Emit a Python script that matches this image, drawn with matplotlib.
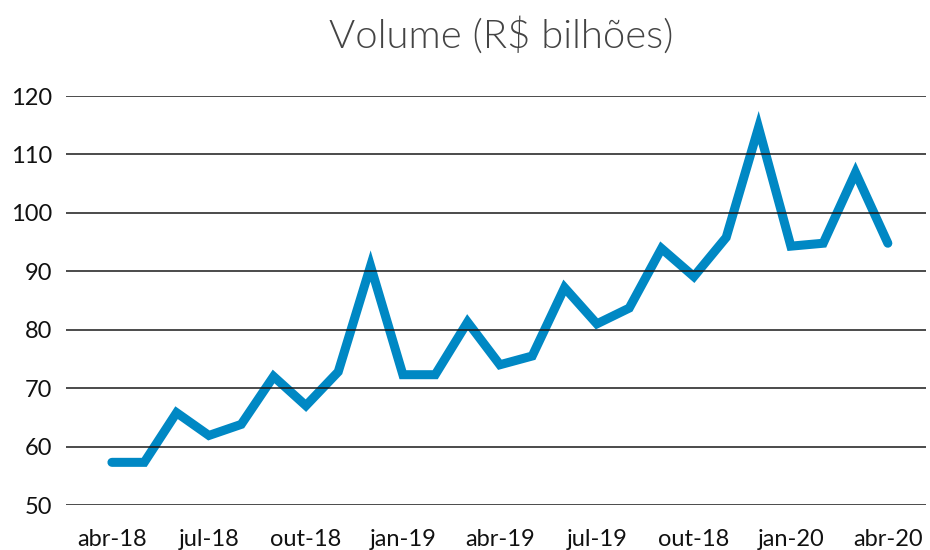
import matplotlib
matplotlib.use('Agg')
import matplotlib.pyplot as plt
from matplotlib import font_manager as fm

# Monthly volume, abr-18 .. abr-20
meses = ['abr-18', 'mai-18', 'jun-18', 'jul-18', 'ago-18', 'set-18', 'out-18', 'nov-18', 'dez-18',
         'jan-19', 'fev-19', 'mar-19', 'abr-19', 'mai-19', 'jun-19', 'jul-19', 'ago-19', 'set-19',
         'out-19', 'nov-19', 'dez-19', 'jan-20', 'fev-20', 'mar-20', 'abr-20']
volume = [57.3, 57.3, 65.8, 61.9, 63.8, 72.0, 67.0, 72.8, 90.9,
          72.3, 72.3, 81.3, 74.0, 75.5, 87.2, 81.0, 83.7, 93.9,
          89.1, 95.8, 114.6, 94.3, 94.8, 106.9, 94.8]
# tick labels as they appear on the original (note the 'out-18' typo kept)
tick_pos = [0, 3, 6, 9, 12, 15, 18, 21, 24]
tick_lab = ['abr-18', 'jul-18', 'out-18', 'jan-19', 'abr-19', 'jul-19', 'out-18', 'jan-20', 'abr-20']
y_ticks = [50, 60, 70, 80, 90, 100, 110, 120]

plt.rcParams['font.family'] = ['Lato', 'DejaVu Sans']

# look for a Lato Light file for the title
light_file = None
for f in fm.findSystemFonts():
    name = f.lower().replace('-', '').replace('_', '')
    if 'lato' in name and 'light' in name and 'italic' not in name:
        light_file = f
        break

fig = plt.figure(figsize=(9.3, 5.5), dpi=100)
ax = fig.add_axes([66/930, 1 - 505/550, 860/930, 409/550])

x = list(range(len(volume)))
ax.plot(x, volume, color='#0088c4', lw=6.5, solid_capstyle='round', solid_joinstyle='miter', zorder=2)

for v in y_ticks:
    ax.axhline(v, color='#1a1a1a', lw=1.1, zorder=3)

ax.set_ylim(50, 120)
ax.set_xlim(-1.42, 25.18)
ax.set_yticks(y_ticks)
ax.set_xticks(tick_pos)
ax.set_xticklabels(tick_lab)
ax.tick_params(axis='both', length=0, labelsize=17, colors='#111111')
ax.tick_params(axis='y', pad=10)
ax.tick_params(axis='x', pad=17)
for s in ax.spines.values():
    s.set_visible(False)

if light_file:
    tprops = fm.FontProperties(fname=light_file, size=28.8)
else:
    tprops = fm.FontProperties(family=['Lato', 'DejaVu Sans'], weight='normal', size=28.8)
fig.text(0.539, 0.935, 'Volume (R$ bilhões)', ha='center', va='center',
         fontproperties=tprops, color='#444444')

fig.savefig('out.png', dpi=100)
